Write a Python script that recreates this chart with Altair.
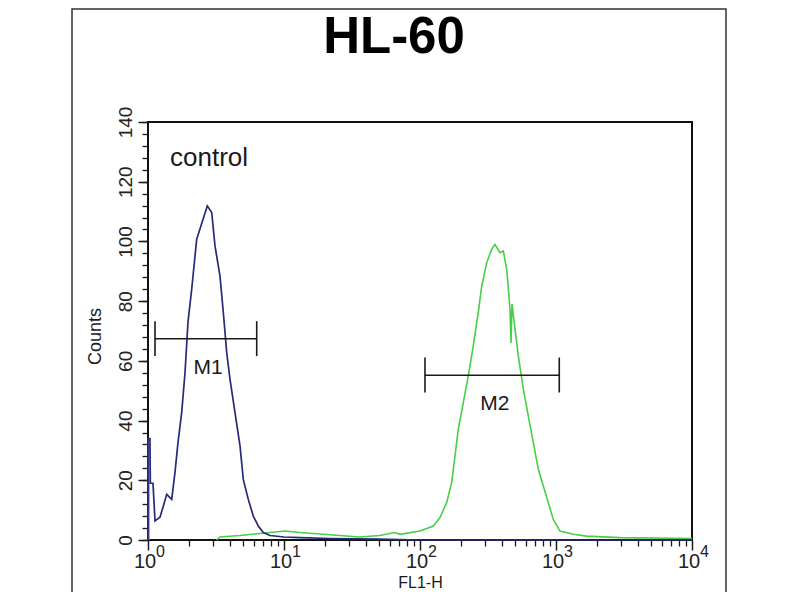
import altair as alt
import pandas as pd

# ---------------- data ----------------
title_text = ["HL-60"]

# control histogram (blue)
ctrl_x = [1.0, 1.0, 1.034, 1.04, 1.088, 1.126, 1.225, 1.289, 1.372, 1.494, 1.580,
          1.662, 1.769, 1.871, 1.968, 2.096, 2.280, 2.482, 2.729, 2.941, 3.109,
          3.383, 3.579, 3.791, 4.009, 4.362, 4.748, 5.020, 5.464, 5.947, 6.471,
          7.043, 7.89, 10.0, 13.1, 21.8, 50.0, 100.0, 1000.0, 10000.0]
ctrl_y = [0, 34, 34, 19, 19, 6.4, 7.6, 11, 15.3, 13.6, 22.7,
          32.7, 42.7, 56, 73, 84, 100.7, 106, 111.9, 109.7, 98.5,
          88.4, 76.2, 62.8, 53.8, 42.7, 31.5, 20.3, 13.6, 8, 4.7,
          2.5, 1.5, 1, 0.8, 0.5, 0.3, 0, 0, 0]

# first-channel spike of the control
spike_x = [1.0]
spike_x2 = [1.03]
spike_y = [34]

# stained sample histogram (green)
samp_x = [3.2, 3.38, 4.75, 6.1, 7.9, 10.2, 13.0, 18.4, 25.7, 36.0, 50.6, 65.0,
          71.3, 100.0, 125.3, 140.3, 157.2, 170.9, 180.8, 191.2, 208.1, 226.4,
          246.4, 268.2, 284.3, 309.3, 336.6, 355.8, 387.3, 409.9, 434.3, 458.9,
          467.0, 474.6, 499.7, 528.6, 575.2, 625.9, 681.1, 741.2, 806.5, 877.6,
          955.0, 1070.0, 1334.0, 1681.0, 2953.0, 10000.0]
samp_y = [0, 1, 1.5, 2, 2.5, 3, 2.5, 2, 1.5, 1, 1.5, 2.5,
          1.9, 3, 4.7, 7.5, 12.6, 19.2, 28.1, 37.1, 46, 54.9,
          65, 76.2, 85, 92.9, 97.4, 99, 96.2, 96.8, 90.6, 77.3,
          66, 79, 70.6, 61.6, 50.5, 41.5, 32.6, 23.7, 18.1, 12.5,
          6.9, 3, 1.9, 1.3, 0.8, 0.5]

# gate markers
gate_names = ["M1", "M2"]
gate_lo = [1.126, 108.8]
gate_hi = [6.3, 1057.0]
gate_y = [67.4, 55.2]
gate_cap_lo = [61.6, 49.4]
gate_cap_hi = [73.3, 61.1]
gate_label_x = [2.77, 355.8]
gate_label_y = [57.5, 45.4]

# annotation
note_text = ["control"]
note_x = [1.451]
note_y = [125.2]

# axes
decade_values = [1, 10, 100, 1000, 10000]
decade_base = ["10", "10", "10", "10", "10"]
decade_exp = ["0", "1", "2", "3", "4"]
x_minor = [k * 10 ** d for d in range(4) for k in range(2, 10)]
y_major = list(range(0, 141, 20))
y_minor = list(range(0, 141, 4))

# ---------------- tables ----------------
ctrl_df = pd.DataFrame({"x": ctrl_x, "y": ctrl_y, "i": list(range(len(ctrl_x)))})
samp_df = pd.DataFrame({"x": samp_x, "y": samp_y, "i": list(range(len(samp_x)))})
spike_df = pd.DataFrame({"x": spike_x, "x2": spike_x2, "y": spike_y})
gate_df = pd.DataFrame({"name": gate_names, "lo": gate_lo, "hi": gate_hi, "y": gate_y,
                        "c1": gate_cap_lo, "c2": gate_cap_hi,
                        "lx": gate_label_x, "ly": gate_label_y})
note_df = pd.DataFrame({"t": note_text, "x": note_x, "y": note_y})
dec_df = pd.DataFrame({"v": decade_values, "b": decade_base, "e": decade_exp})
title_df = pd.DataFrame({"t": title_text})
one_df = pd.DataFrame({"a": [0]})

W, H = 544, 418
NARROW = "Liberation Sans Narrow, Liberation Sans, Arial, sans-serif"
REG = "Liberation Sans, Arial, sans-serif"
INK = "#1a1a1a"

xs = alt.Scale(type="log", domain=[1, 10000], nice=False)
ys = alt.Scale(domain=[0, 140], nice=False)

# major axes
x_major_axis = alt.Axis(orient="bottom", values=decade_values, tickSize=10, tickWidth=1.5,
                        tickColor=INK, labels=False, domain=False, grid=False,
                        title="FL1-H", titleFont=NARROW, titleFontSize=16,
                        titleFontWeight="normal", titleColor=INK, titleX=W / 2,
                        titleY=47, titleAlign="center", titleBaseline="alphabetic")
y_major_axis = alt.Axis(orient="left", values=y_major, tickSize=10, tickWidth=1.5,
                        tickColor=INK, domain=False, grid=False,
                        labelAngle=270, labelAlign="center", labelBaseline="bottom",
                        labelPadding=3, labelFont=NARROW, labelFontSize=19,
                        labelColor="#222222",
                        title="Counts", titleFont=REG, titleFontSize=18,
                        titleFontWeight="normal", titleColor=INK, titleAngle=270,
                        titleX=-44, titleY=214, titleAlign="center",
                        titleBaseline="bottom")
# minor axes
x_minor_axis = alt.Axis(orient="bottom", values=x_minor, tickSize=6, tickWidth=1.3,
                        tickColor=INK, labels=False, domain=False, grid=False, title="")
y_minor_axis = alt.Axis(orient="left", values=y_minor, tickSize=6, tickWidth=1.3,
                        tickColor=INK, labels=False, domain=False, grid=False, title="")

frame = alt.Chart(one_df).mark_rect(filled=False, stroke="#333333", strokeWidth=1.5).encode(
    x=alt.value(-76), x2=alt.value(578), y=alt.value(-113), y2=alt.value(700))

spike = alt.Chart(spike_df).mark_rect(color="#8489cf").encode(
    x=alt.X("x:Q", scale=xs, axis=None), x2="x2:Q",
    y=alt.Y("y:Q", scale=ys, axis=None), y2=alt.datum(0))

samp = alt.Chart(samp_df).mark_line(color="#47cf47", strokeWidth=1.6).encode(
    x=alt.X("x:Q", scale=xs, axis=x_major_axis),
    y=alt.Y("y:Q", scale=ys, axis=y_major_axis),
    order="i:Q")

ctrl = alt.Chart(ctrl_df).mark_line(color="#262a78", strokeWidth=1.7).encode(
    x=alt.X("x:Q", scale=xs, axis=x_minor_axis),
    y=alt.Y("y:Q", scale=ys, axis=y_minor_axis),
    order="i:Q")

gate_bar = alt.Chart(gate_df).mark_rule(color=INK, strokeWidth=1.6).encode(
    x=alt.X("lo:Q", scale=xs, axis=None), x2="hi:Q",
    y=alt.Y("y:Q", scale=ys, axis=None))
cap_lo = alt.Chart(gate_df).mark_rule(color=INK, strokeWidth=1.6).encode(
    x=alt.X("lo:Q", scale=xs, axis=None),
    y=alt.Y("c1:Q", scale=ys, axis=None), y2="c2:Q")
cap_hi = alt.Chart(gate_df).mark_rule(color=INK, strokeWidth=1.6).encode(
    x=alt.X("hi:Q", scale=xs, axis=None),
    y=alt.Y("c1:Q", scale=ys, axis=None), y2="c2:Q")
gate_txt = alt.Chart(gate_df).mark_text(font=NARROW, fontSize=21, color=INK,
                                        align="center", baseline="middle").encode(
    x=alt.X("lx:Q", scale=xs, axis=None),
    y=alt.Y("ly:Q", scale=ys, axis=None), text="name:N")

note = alt.Chart(note_df).mark_text(font=REG, fontSize=26, color=INK,
                                    align="left", baseline="alphabetic").encode(
    x=alt.X("x:Q", scale=xs, axis=None),
    y=alt.Y("y:Q", scale=ys, axis=None), text="t:N")

dec_base = alt.Chart(dec_df).mark_text(font=NARROW, fontSize=20, color="#222222",
                                       align="center", baseline="alphabetic", dx=-3).encode(
    x=alt.X("v:Q", scale=xs, axis=None), y=alt.value(H + 28), text="b:N")
dec_exp = alt.Chart(dec_df).mark_text(font=NARROW, fontSize=16, color="#222222",
                                      align="left", baseline="alphabetic", dx=8).encode(
    x=alt.X("v:Q", scale=xs, axis=None), y=alt.value(H + 17), text="e:N")

title = alt.Chart(title_df).mark_text(font=REG, fontSize=51, fontWeight="bold",
                                      color="#000000", align="center",
                                      baseline="alphabetic").encode(
    x=alt.value(246), y=alt.value(-69), text="t:N")

chart = alt.layer(
    frame, spike, samp, ctrl, gate_bar, cap_lo, cap_hi, gate_txt, note,
    dec_base, dec_exp, title
).resolve_axis(x="independent", y="independent").properties(
    width=W, height=H,
    autosize=alt.AutoSizeParams(type="none"),
    padding={"left": 140, "top": 114, "right": 100, "bottom": 52},
    background="white",
).configure_view(stroke="#111111", strokeWidth=2)

chart.save("out.html", embed_options={"renderer": "svg", "actions": False})
